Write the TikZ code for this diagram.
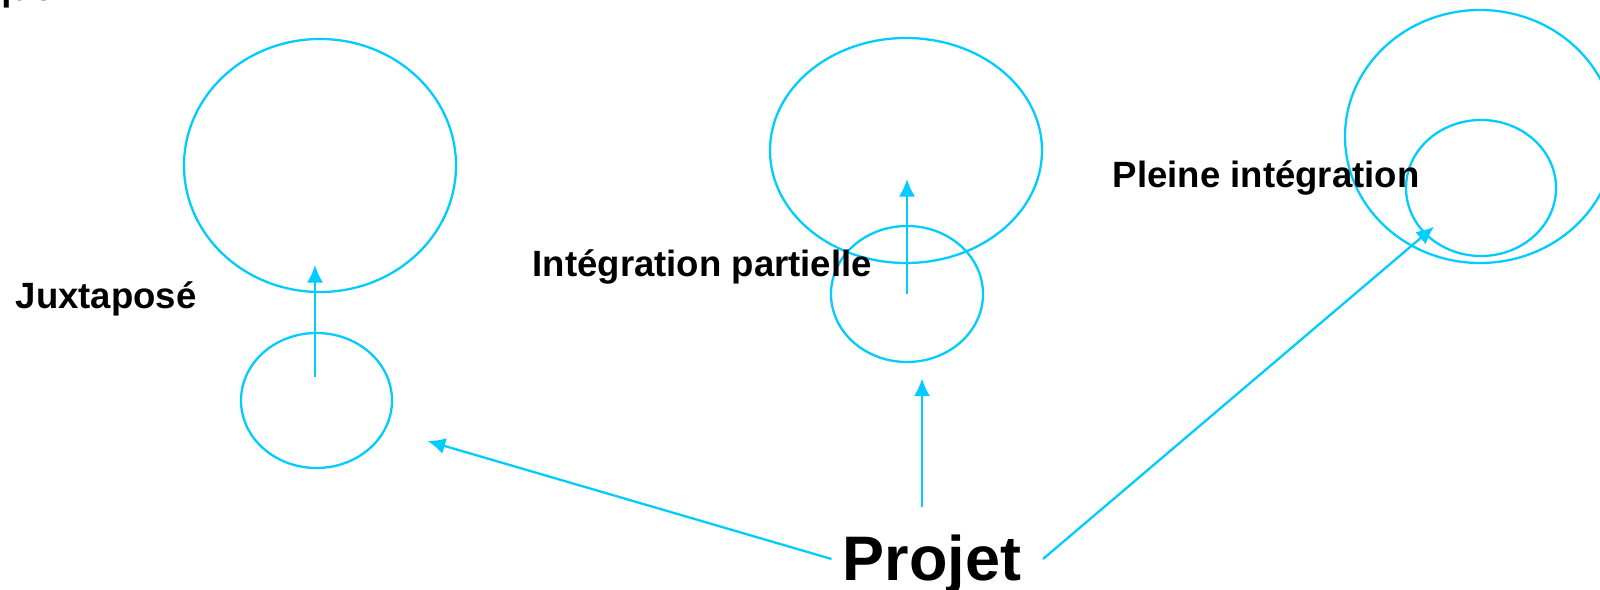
\documentclass[tikz,border=0pt]{standalone}
\usepackage{fontspec}
\setmainfont{Liberation Sans}
\usetikzlibrary{shapes.geometric,arrows.meta}
\definecolor{cyanpp}{RGB}{0,204,255}
\tikzset{
  bulle/.style={ellipse, draw=cyanpp, line width=.65pt, inner sep=0pt},
  lbl/.style={anchor=base west, inner sep=0pt, font=\bfseries\fontsize{10.4}{12}\selectfont},
  fl/.style={->, draw=cyanpp, line width=.65pt}
}
\begin{document}
\begin{tikzpicture}[>={Latex[length=5pt,width=4.6pt]}]
\useasboundingbox (0,0) rectangle (16,5.89);
\node[lbl] (titre) at (-.114,5.885){que};
% juxtapose
\node[bulle, minimum width=2.72cm, minimum height=2.53cm] (jxgrand) at (3.20,4.235){};
\node[bulle, minimum width=1.51cm, minimum height=1.35cm] (jxpetit) at (3.165,1.885){};
\coordinate (jxbas) at (3.15,2.12);
\coordinate (jxhaut) at (3.15,3.24);
\draw[fl] (jxbas)--(jxhaut);
\node[lbl] (jx) at (.15,2.80){Juxtaposé};
% partielle
\node[bulle, minimum width=2.72cm, minimum height=2.25cm] (ipgrand) at (9.06,4.385){};
\node[bulle, minimum width=1.52cm, minimum height=1.36cm] (ippetit) at (9.07,2.95){};
\coordinate (iphaut) at (9.07,4.10);
\draw[fl] (ippetit.center)--(iphaut);
\node[lbl] (ip) at (5.32,3.12){Intégration partielle};
% pleine
\node[bulle, minimum width=2.70cm, minimum height=2.53cm] (pigrand) at (14.80,4.525){};
\node[bulle, minimum width=1.50cm, minimum height=1.36cm] (pipetit) at (14.81,4.01){};
\node[lbl] (pi) at (11.12,4.01){Pleine intégration};
% projet
\node[anchor=base west, inner sep=0pt, font=\bfseries\fontsize{17.9}{20}\selectfont] (projet) at (8.42,.09){Projet};
\coordinate (prg) at (8.315,.30);
\coordinate (prd) at (10.43,.30);
\coordinate (prh) at (9.22,.82);
\coordinate (jxfl) at (4.276,1.48);
\coordinate (ipfl) at (9.22,2.105);
\coordinate (pifl) at (14.34,3.623);
\draw[fl] (prg)--(jxfl);
\draw[fl] (prh)--(ipfl);
\draw[fl] (prd)--(pifl);
\end{tikzpicture}
\end{document}
